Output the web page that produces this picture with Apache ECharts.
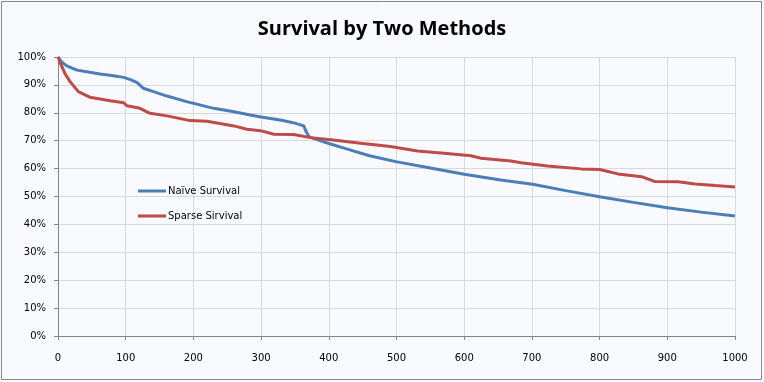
<!DOCTYPE html>
<html><head><meta charset="utf-8">
<script src="https://cdn.jsdelivr.net/npm/echarts@6/dist/echarts.min.js"></script>
<style>html,body{margin:0;padding:0;background:#fff}#c{width:764px;height:382px}</style>
</head><body><div id="c"></div>
<script>
const titleText = 'Survival by Two Methods';
const seriesNames = ['Naïve Survival', 'Sparse Sirvival'];
const naiveX = [0, 5, 13, 28, 47, 62, 82, 97, 108, 117, 126, 141, 161, 190, 230, 260, 284, 300, 330, 350, 363, 367, 371, 385, 400, 430, 460, 499, 550, 600, 654, 701, 750, 800, 850, 900, 950, 1000];
const naiveY = [100, 98.3, 96.8, 95.3, 94.5, 93.9, 93.3, 92.7, 91.8, 90.8, 88.8, 87.6, 86.0, 84.0, 81.6, 80.4, 79.2, 78.5, 77.3, 76.3, 75.3, 73.0, 71.4, 70.2, 69.0, 66.8, 64.6, 62.5, 60.2, 58.0, 55.9, 54.4, 52.1, 49.9, 47.9, 46.0, 44.4, 43.0];
const sparseX = [0, 4, 10, 18, 30, 47, 77, 97, 102, 121, 136, 161, 195, 220, 260, 279, 299, 319, 348, 373, 403, 447, 491, 531, 570, 610, 625, 669, 684, 723, 773, 800, 827, 862, 881, 916, 941, 971, 1000];
const sparseY = [100, 97.5, 94.2, 91.1, 87.6, 85.6, 84.3, 83.6, 82.5, 81.6, 79.8, 78.9, 77.2, 77.0, 75.3, 74.1, 73.6, 72.3, 72.2, 71.1, 70.3, 69.1, 67.9, 66.3, 65.5, 64.6, 63.7, 62.7, 62.1, 60.9, 59.9, 59.7, 58.1, 57.1, 55.4, 55.3, 54.5, 53.9, 53.4];
const xTicks = [0, 100, 200, 300, 400, 500, 600, 700, 800, 900, 1000];
const yTicks = [0, 10, 20, 30, 40, 50, 60, 70, 80, 90, 100];

const zip = (xs, ys) => xs.map((x, i) => [x, ys[i]]);
const chart = echarts.init(document.getElementById('c'));
const lbl = {fontFamily: 'DejaVu Sans', fontSize: 10, color: '#000'};
chart.setOption({
  backgroundColor: '#F9FAFD',
  animation: false,
  title: {text: titleText, left: 'center', top: 14,
    textStyle: {fontFamily: 'Open Sans', fontWeight: 'bold', fontSize: 20, color: '#000'}},
  graphic: [{type: 'rect', shape: {x: 1.5, y: 1.5, width: 760, height: 378},
    style: {fill: 'none', stroke: '#878787', lineWidth: 1}, silent: true}],
  legend: {orient: 'vertical', left: 133, top: 181, itemWidth: 28, itemHeight: 3, itemGap: 15,
    icon: 'rect', textStyle: {fontFamily: 'DejaVu Sans', fontSize: 10, color: '#000', padding: [0,0,0,-3]},
    data: seriesNames},
  grid: {left: 58, right: 29, top: 57, bottom: 46},
  xAxis: {type: 'value', min: xTicks[0], max: xTicks[xTicks.length-1], interval: 100,
    axisLine: {lineStyle: {color: '#868686'}}, axisTick: {show: true, length: 4, lineStyle: {color: '#868686'}},
    axisLabel: Object.assign({margin: 17, formatter: v => String(v)}, lbl),
    splitLine: {show: true, lineStyle: {color: '#D9D9D9'}}},
  yAxis: {type: 'value', min: yTicks[0], max: yTicks[yTicks.length-1], interval: 10,
    axisLine: {show: true, lineStyle: {color: '#868686'}}, axisTick: {show: true, length: 4, lineStyle: {color: '#868686'}},
    axisLabel: Object.assign({margin: 12, formatter: v => v + '%'}, lbl),
    splitLine: {show: true, lineStyle: {color: '#D9D9D9'}}},
  series: [
    {name: seriesNames[0], type: 'line', data: zip(naiveX, naiveY), showSymbol: false, symbol: 'none',
      lineStyle: {color: '#4A7EBB', width: 3}, itemStyle: {color: '#4A7EBB'}},
    {name: seriesNames[1], type: 'line', data: zip(sparseX, sparseY), showSymbol: false, symbol: 'none',
      lineStyle: {color: '#BE4B48', width: 3}, itemStyle: {color: '#BE4B48'}}
  ]
});
</script></body></html>
